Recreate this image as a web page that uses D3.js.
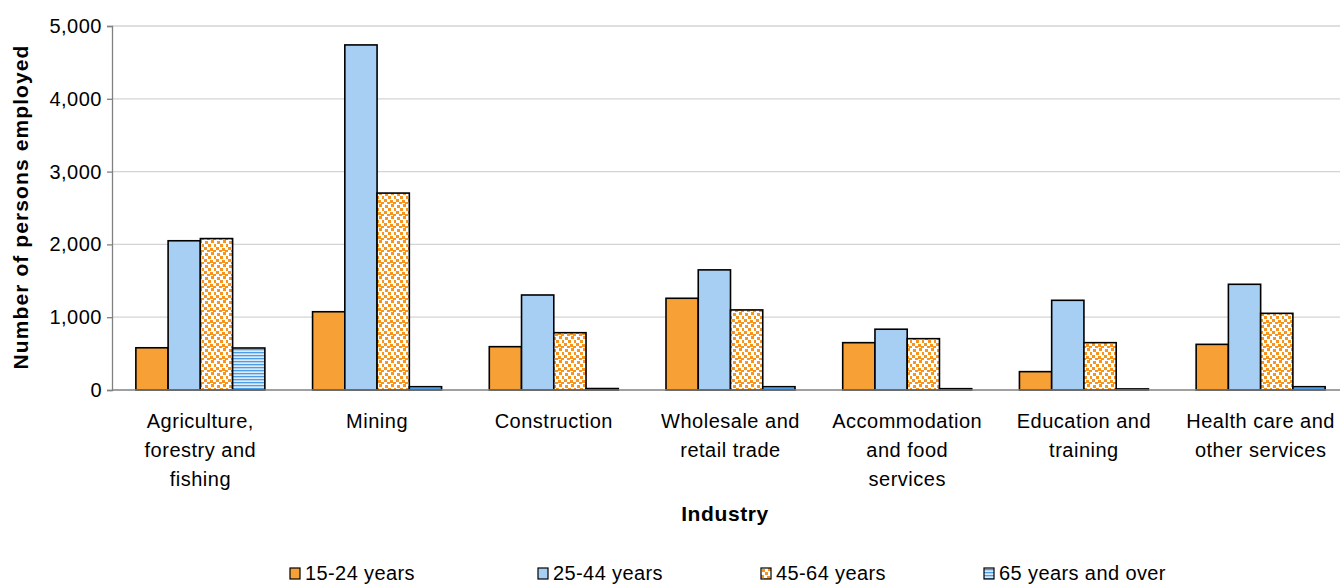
<!DOCTYPE html>
<meta charset="utf-8">
<style>
  body { margin: 0; background: #fff; }
  text { font-family: "Liberation Sans", Arial, sans-serif; fill: #000; }
</style>
<script src="https://d3js.org/d3.v7.min.js"></script>
<body>
<script>

// chart data
var industries = [
  "Agriculture,|forestry and|fishing",
  "Mining",
  "Construction",
  "Wholesale and|retail trade",
  "Accommodation|and food|services",
  "Education and|training",
  "Health care and|other services"
];
var ageGroups = ["15-24 years", "25-44 years", "45-64 years", "65 years and over"];
var age15to24 = [580, 1075, 595, 1260, 650, 252, 627];
var age25to44 = [2050, 4740, 1305, 1650, 835, 1232, 1452];
var age45to64 = [2080, 2705, 787, 1100, 705, 650, 1053];
var age65plus = [577, 45, 20, 45, 18, 15, 45];
var yTicks = [0, 1000, 2000, 3000, 4000, 5000];

var series = [age15to24, age25to44, age45to64, age65plus];

var width = 1340, height = 586;
var margin = {left: 112, right: -9, top: 26, bottom: 196};

var svg = d3.select("body").append("svg")
    .attr("width", width)
    .attr("height", height);

// patterns for the two patterned series
var defs = svg.append("defs");
var dots = defs.append("pattern")
    .attr("id", "dots")
    .attr("patternUnits", "userSpaceOnUse")
    .attr("width", 12).attr("height", 12);
dots.append("rect").attr("width", 12).attr("height", 12).attr("fill", "#fff");
[[1, 1], [7, 0], [4, 4], [10, 4], [0, 7], [6, 8], [3, 10], [9, 10]].forEach(function(p) {
  dots.append("rect")
      .attr("x", p[0]).attr("y", p[1])
      .attr("width", 3).attr("height", 3)
      .attr("fill", "#f7941d");
});

var stripes = defs.append("pattern")
    .attr("id", "stripes")
    .attr("patternUnits", "userSpaceOnUse")
    .attr("width", 4).attr("height", 3);
stripes.append("rect").attr("width", 4).attr("height", 3).attr("fill", "#dcebfa");
stripes.append("rect").attr("y", 1).attr("width", 4).attr("height", 1.3).attr("fill", "#4d9de6");

var fills = ["#f7a035", "#a7cff4", "url(#dots)", "url(#stripes)"];

var x0 = d3.scaleBand()
    .domain(industries)
    .range([margin.left, width - margin.right])
    .paddingInner(0.27)
    .paddingOuter(0.135);

var x1 = d3.scaleBand()
    .domain(d3.range(ageGroups.length))
    .range([0, x0.bandwidth()]);

var y = d3.scaleLinear()
    .domain([0, 5000])
    .range([height - margin.bottom, margin.top]);

// gridlines
svg.append("g")
  .selectAll("line")
  .data(yTicks.slice(1))
  .enter().append("line")
    .attr("x1", margin.left).attr("x2", width)
    .attr("y1", function(d) { return y(d); })
    .attr("y2", function(d) { return y(d); })
    .attr("stroke", "#d4d4d4")
    .attr("stroke-width", 1.3);

// bars
svg.append("g")
  .selectAll("g")
  .data(series)
  .enter().append("g")
    .attr("fill", function(d, i) { return fills[i]; })
  .selectAll("rect")
  .data(function(d, i) { return d.map(function(v, j) { return {s: i, c: j, v: v}; }); })
  .enter().append("rect")
    .attr("x", function(d) { return x0(industries[d.c]) + x1(d.s); })
    .attr("width", x1.bandwidth())
    .attr("y", function(d) { return y(d.v); })
    .attr("height", function(d) { return y(0) - y(d.v); })
    .attr("stroke", "#000")
    .attr("stroke-width", 1.6);

// y axis
var yAxis = svg.append("g")
    .attr("transform", "translate(" + margin.left + ",0)")
    .call(d3.axisLeft(y).tickValues(yTicks).tickSize(5).tickPadding(5)
      .tickFormat(d3.format(",")));
yAxis.select(".domain").attr("stroke", "#808080").attr("stroke-width", 1.3);
yAxis.selectAll(".tick line").attr("stroke", "#808080").attr("stroke-width", 1.3);
yAxis.selectAll(".tick text").attr("font-size", 20).attr("fill", "#000")
    .attr("letter-spacing", 0.5)
    .style("font-family", "Liberation Sans, Arial, sans-serif");

// x axis baseline
svg.append("line")
    .attr("x1", margin.left).attr("x2", width)
    .attr("y1", y(0)).attr("y2", y(0))
    .attr("stroke", "#808080")
    .attr("stroke-width", 1.3);

// category labels
var labels = svg.append("g")
  .selectAll("text")
  .data(industries)
  .enter().append("text")
    .attr("x", function(d) { return x0(d) + x0.bandwidth() / 2; })
    .attr("y", y(0) + 38)
    .attr("text-anchor", "middle")
    .attr("font-size", 20)
    .attr("letter-spacing", 0.5);
labels.selectAll("tspan")
  .data(function(d) { return d.split("|"); })
  .enter().append("tspan")
    .attr("x", function() { return d3.select(this.parentNode).attr("x"); })
    .attr("dy", function(d, i) { return i ? 29 : 0; })
    .text(function(d) { return d; });

// axis titles
svg.append("text")
    .attr("x", 725).attr("y", 521)
    .attr("text-anchor", "middle")
    .attr("font-size", 21)
    .attr("font-weight", "bold")
    .attr("letter-spacing", 0.6)
    .text("Industry");

svg.append("text")
    .attr("transform", "translate(28," + 207 + ") rotate(-90)")
    .attr("text-anchor", "middle")
    .attr("font-size", 21)
    .attr("font-weight", "bold")
    .attr("letter-spacing", 1.1)
    .text("Number of persons employed");

// legend
var legendX = [290, 538, 761, 984];
var legend = svg.append("g")
  .selectAll("g")
  .data(ageGroups)
  .enter().append("g")
    .attr("transform", function(d, i) { return "translate(" + legendX[i] + ",568)"; });
legend.append("rect")
    .attr("width", 10).attr("height", 11)
    .attr("fill", function(d, i) { return fills[i]; })
    .attr("stroke", "#000")
    .attr("stroke-width", 1.2);
legend.append("text")
    .attr("x", 15).attr("y", 12)
    .attr("font-size", 20)
    .attr("letter-spacing", 0.4)
    .text(function(d) { return d; });

</script>
</body>
